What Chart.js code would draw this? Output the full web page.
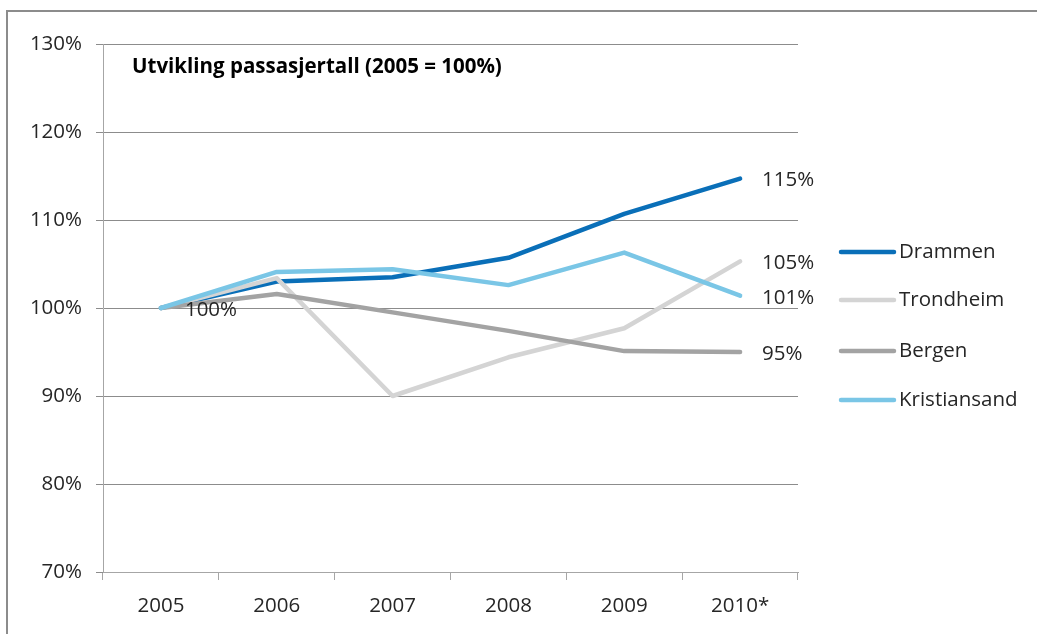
<!DOCTYPE html>
<html>
<head>
<meta charset="utf-8">
<script src="https://cdn.jsdelivr.net/npm/chart.js@4"></script>
<style>
html,body{margin:0;padding:0;background:#fff;}
#wrap{position:relative;width:1037px;height:634px;}
</style>
</head>
<body>
<div id="wrap"><canvas id="c" width="1037" height="634"></canvas></div>
<script>
const categories = ['2005', '2006', '2007', '2008', '2009', '2010*'];
const seriesNames = ['Drammen', 'Trondheim', 'Bergen', 'Kristiansand'];
const drammen = [100, 103.0, 103.5, 105.7, 110.7, 114.7];
const trondheim = [100, 103.4, 90.0, 94.4, 97.7, 105.3];
const bergen = [100, 101.6, 99.5, 97.4, 95.1, 95.0];
const kristiansand = [100, 104.1, 104.4, 102.6, 106.3, 101.4];
const yTicks = [70, 80, 90, 100, 110, 120, 130];
const titleText = 'Utvikling passasjertall (2005 = 100%)';

const colors = ['#0a6fb8', '#d4d4d4', '#a3a3a3', '#7ac6e6'];
const FONT = '"Open Sans", Lato, sans-serif';
const TXT = '#262626';
const FS = 20.5;

const allSeries = [drammen, trondheim, bergen, kristiansand];

const extrasPlugin = {
  id: 'extras',
  afterDraw(chart) {
    const ctx = chart.ctx;
    const x = chart.scales.x, y = chart.scales.y;
    ctx.save();
    // outer border (top & left)
    ctx.strokeStyle = '#8c8c8c';
    ctx.lineWidth = 2;
    ctx.beginPath();
    ctx.moveTo(7, 634);
    ctx.lineTo(7, 11);
    ctx.lineTo(1037, 11);
    ctx.stroke();
    // title
    ctx.fillStyle = '#000';
    ctx.font = 'bold 20.5px ' + FONT;
    ctx.textAlign = 'left';
    ctx.textBaseline = 'middle';
    ctx.fillText(titleText, 132, 67);
    // data labels
    ctx.font = FS + 'px ' + FONT;
    ctx.fillStyle = TXT;
    allSeries.forEach((s, i) => {
      const last = s.length - 1;
      const px = x.getPixelForValue(last), py = y.getPixelForValue(s[last]);
      ctx.fillText(Math.round(s[last]) + '%', px + 22, py + 2);
    });
    // first point label
    const p0x = x.getPixelForValue(0), p0y = y.getPixelForValue(bergen[0]);
    ctx.fillText(Math.round(bergen[0]) + '%', p0x + 24, p0y + 2);
    // legend
    const ys = [252, 300, 351, 400];
    seriesNames.forEach((n, i) => {
      ctx.strokeStyle = colors[i];
      ctx.lineWidth = 4.5;
      ctx.lineCap = 'round';
      ctx.beginPath();
      ctx.moveTo(841, ys[i]);
      ctx.lineTo(894, ys[i]);
      ctx.stroke();
      ctx.fillStyle = TXT;
      ctx.fillText(n, 899, ys[i]);
    });
    ctx.restore();
  }
};

new Chart(document.getElementById('c'), {
  type: 'line',
  data: {
    labels: categories,
    datasets: allSeries.map((s, i) => ({
      label: seriesNames[i],
      data: s,
      borderColor: colors[i],
      backgroundColor: colors[i],
      borderWidth: 4.5,
      pointRadius: 0,
      tension: 0,
      borderCapStyle: 'round',
      borderJoinStyle: 'round',
      order: 4 - i
    }))
  },
  options: {
    responsive: false,
    animation: false,
    layout: { padding: { top: 44, right: 239, bottom: 0, left: 0 } },
    plugins: { legend: { display: false }, tooltip: { enabled: false } },
    scales: {
      x: {
        offset: true,
        afterFit(s) { s.height = 62; },
        grid: { display: true, drawOnChartArea: false, drawTicks: true, tickLength: 8, color: '#a6a6a6', offset: true },
        border: { color: '#a6a6a6', width: 1 },
        ticks: { color: TXT, font: { family: FONT, size: FS }, padding: 14 }
      },
      y: {
        min: 70, max: 130,
        afterFit(s) { s.width = 103; },
        afterBuildTicks(s) { s.ticks = yTicks.map(v => ({ value: v })); },
        grid: { color: '#8c8c8c', lineWidth: 1, drawTicks: true, tickLength: 7 },
        border: { color: '#a6a6a6', width: 1 },
        ticks: { color: TXT, font: { family: FONT, size: FS }, padding: 14, callback: v => v + '%' }
      }
    }
  },
  plugins: [extrasPlugin]
});
</script>
</body>
</html>
